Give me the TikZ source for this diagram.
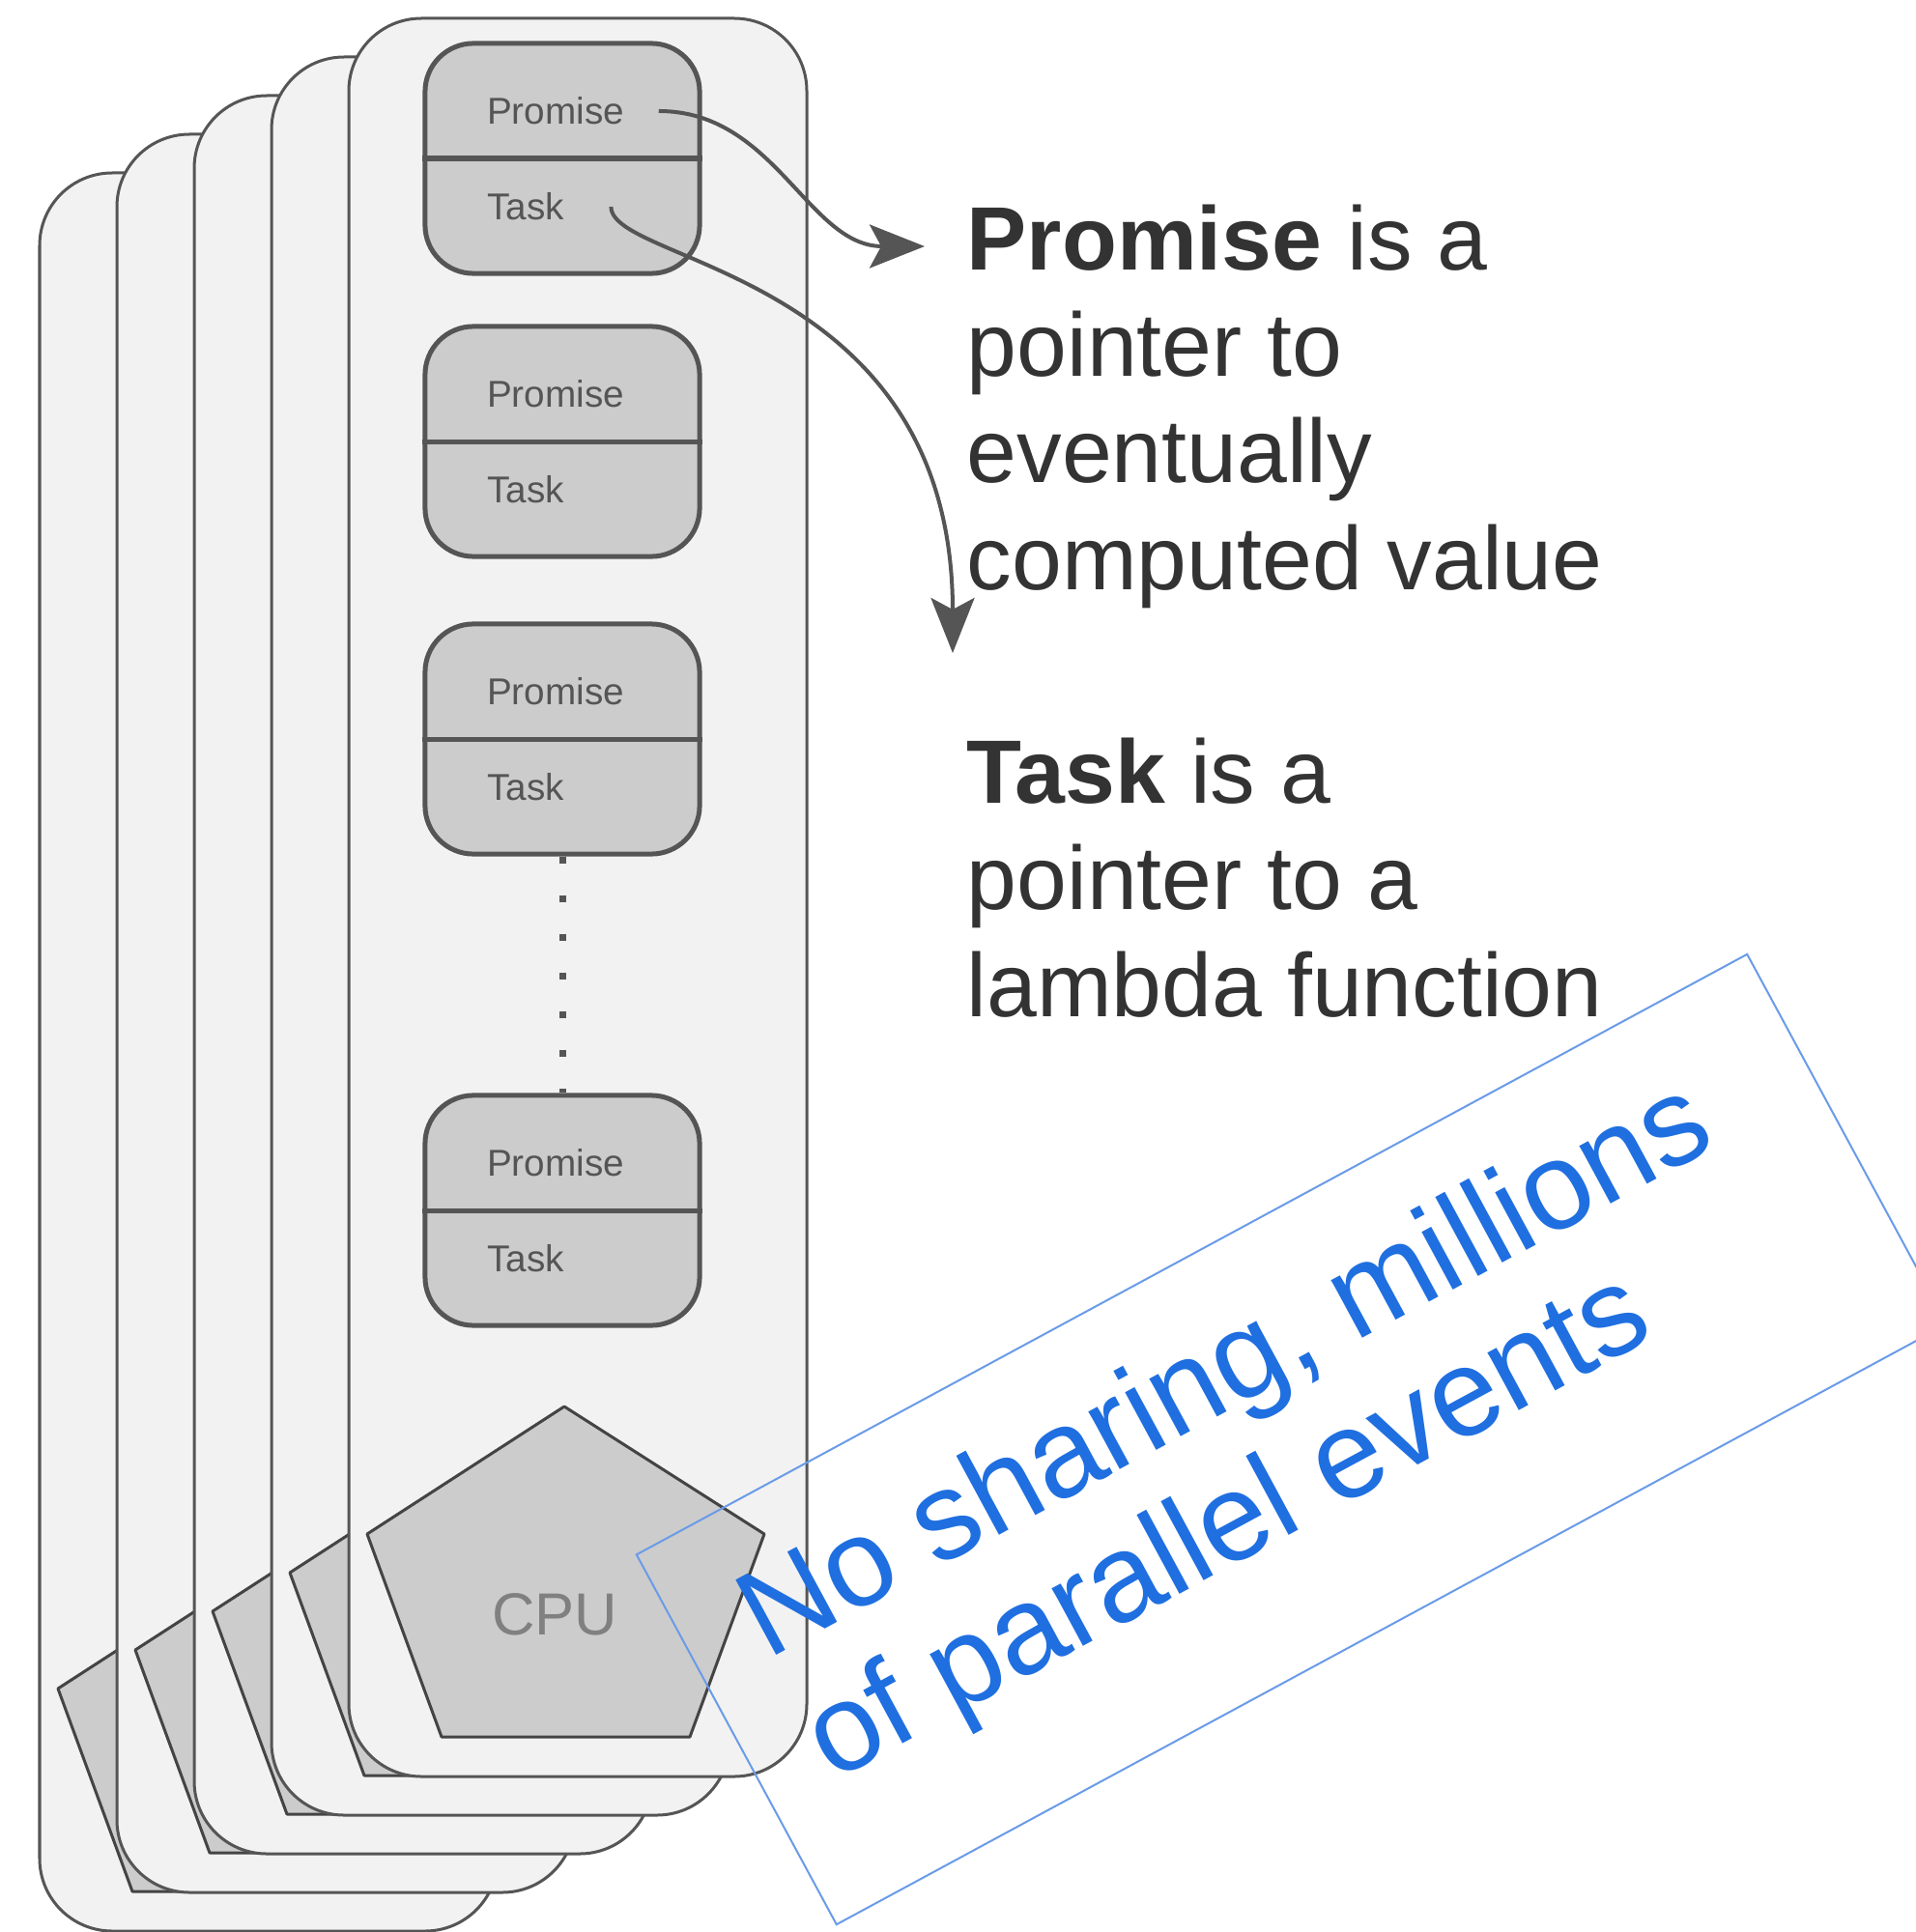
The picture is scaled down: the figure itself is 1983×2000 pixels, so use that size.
\documentclass[tikz,border=0pt]{standalone}
\usepackage{fontspec}
\setmainfont{Liberation Sans}
\usetikzlibrary{arrows.meta}

\definecolor{cardfill}{HTML}{F2F2F2}
\definecolor{boxfill}{HTML}{CCCCCC}
\definecolor{edgegray}{HTML}{555555}
\definecolor{inkgray}{HTML}{333333}
\definecolor{noteline}{HTML}{6A9BE8}
\definecolor{noteblue}{HTML}{1F6FE0}

\tikzset{% >= stealth,
  card/.style ={draw=edgegray, fill=cardfill, line width=0.03cm, rounded corners=0.75cm},
  chip/.style ={draw=edgegray!80!black, fill=boxfill, line width=0.03cm, line join=round},
  taskbox/.style={
    draw=edgegray, fill=boxfill, line width=0.05cm, rounded corners=0.5cm,
    minimum width=2.84cm, minimum height=2.38cm, inner sep=0pt,
  },
  divider/.style={draw=edgegray, line width=0.05cm},
  field/.style={font=\fontsize{11}{13}\selectfont, text=edgegray, inner sep=0pt, anchor=west},
  note/.style ={font=\fontsize{26.5}{31.3}\selectfont, text=inkgray, align=left, inner sep=0pt, anchor=base west},
  ptr/.style  ={draw=edgegray, line width=0.04cm, -{Stealth[length=0.57cm,width=0.45cm,inset=0.12cm]}},
}

\begin{document}
\begin{tikzpicture}[x=0.01cm, y=-0.01cm]
  \useasboundingbox (0,0) rectangle (1983,2000);
  % stack of cores, back to front
  \draw[card] (41,179) rectangle (515,1999);
  \draw[chip] (60,1748) -- (264,1616) -- (471,1748) -- (394,1958) -- (137,1958) -- cycle;
  \draw[card] (121,139) rectangle (595,1959);
  \draw[chip] (140,1708) -- (344,1576) -- (551,1708) -- (474,1918) -- (217,1918) -- cycle;
  \draw[card] (201,99) rectangle (675,1919);
  \draw[chip] (220,1668) -- (424,1536) -- (631,1668) -- (554,1878) -- (297,1878) -- cycle;
  \draw[card] (281,59) rectangle (755,1879);
  \draw[chip] (300,1628) -- (504,1496) -- (711,1628) -- (634,1838) -- (377,1838) -- cycle;
  \draw[card] (361,19) rectangle (835,1839);
  \draw[chip] (380,1588) -- (584,1456) -- (791,1588) -- (714,1798) -- (457,1798) -- cycle;
  \node[font=\fontsize{17.5}{20}\selectfont, text=gray] (cpu) at (574,1671) {CPU};

  \node[taskbox] (b1) at (582,164) {};
  \node[taskbox] (b2) at (582,457) {};
  \node[taskbox] (b3) at (582,765) {};
  \node[taskbox] (b4) at (582,1253) {};
  \draw[divider] (b1.west) -- (b1.east);
  \draw[divider] (b2.west) -- (b2.east);
  \draw[divider] (b3.west) -- (b3.east);
  \draw[divider] (b4.west) -- (b4.east);
  \node[field] (p1) at ([xshift=0.66cm, yshift=0.49cm]b1.west) {Promise};
  \node[field] (t1) at ([xshift=0.66cm, yshift=-0.50cm]b1.west) {Task};
  \node[field] (p2) at ([xshift=0.66cm, yshift=0.49cm]b2.west) {Promise};
  \node[field] (t2) at ([xshift=0.66cm, yshift=-0.50cm]b2.west) {Task};
  \node[field] (p3) at ([xshift=0.66cm, yshift=0.49cm]b3.west) {Promise};
  \node[field] (t3) at ([xshift=0.66cm, yshift=-0.50cm]b3.west) {Task};
  \node[field] (p4) at ([xshift=0.66cm, yshift=0.49cm]b4.west) {Promise};
  \node[field] (t4) at ([xshift=0.66cm, yshift=-0.50cm]b4.west) {Task};
  \draw[edgegray, line width=0.07cm, dash pattern=on 0.07cm off 0.33cm] (b3.south) -- (b4.north);

  % explanations (anchored on the baseline of the last line)
  \node[note] (pnote) at (1000,610) {\textbf{Promise} is a\\pointer to\\eventually\\computed value};
  \node[note] (tnote) at (1000,1052) {\textbf{Task} is a\\pointer to a\\lambda function};
  \coordinate (ptip) at (957,255);
  \coordinate (ttip) at (986,676);
  \draw[ptr] ([xshift=0.35cm]p1.east) to[out=0, in=180] (ptip);
  \draw[ptr] ([xshift=0.48cm]t1.east) .. controls +(0,60) and (986,280) .. (ttip);

  % stamp
  \node[draw=noteline, line width=0.02cm, rotate=28.4, minimum width=13.06cm, minimum height=4.35cm] (stamp) at (1337,1490) {};
  \node[rotate=28.4, text=noteblue, align=left, font=\fontsize{36.5}{40.5}\selectfont] (claim) at (1305,1486) {No sharing, millions\\of parallel events};
\end{tikzpicture}
\end{document}
